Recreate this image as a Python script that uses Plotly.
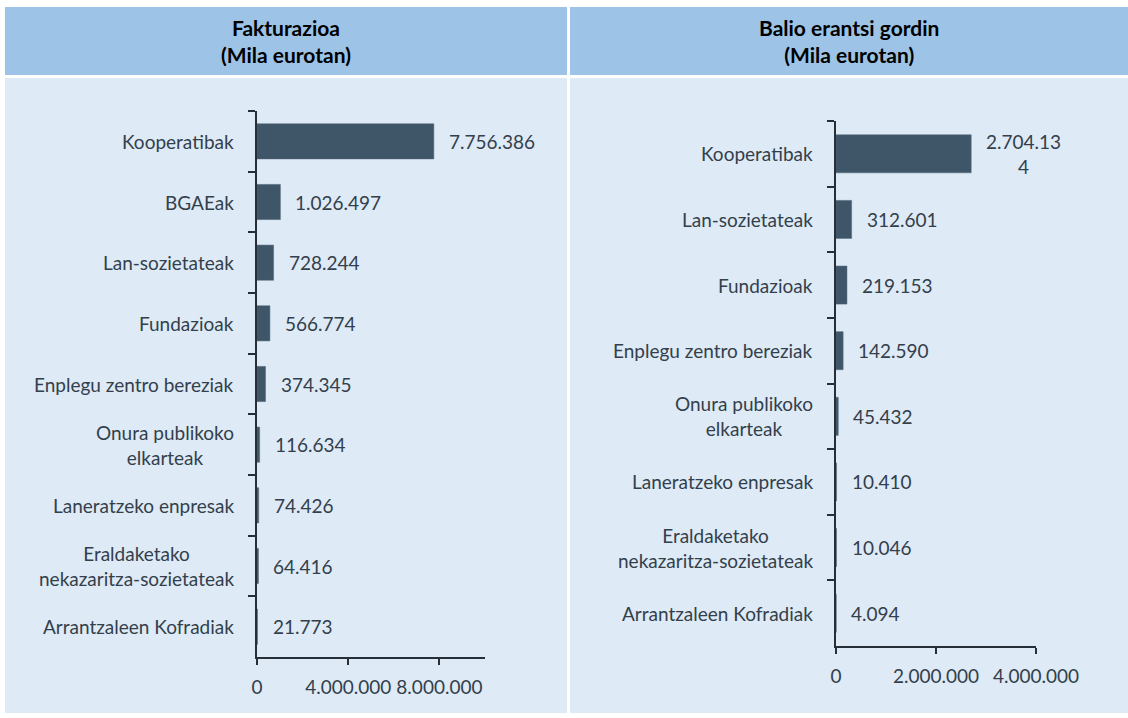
import plotly.graph_objects as go

W, H = 1128, 718

# ---- data ----
left_title = "<b>Fakturazioa<br>(Mila eurotan)</b>"
left_categories = ["Kooperatibak", "BGAEak", "Lan-sozietateak", "Fundazioak",
                   "Enplegu zentro bereziak", "Onura publikoko<br>elkarteak",
                   "Laneratzeko enpresak", "Eraldaketako<br>nekazaritza-sozietateak",
                   "Arrantzaleen Kofradiak"]
left_values = [7756386, 1026497, 728244, 566774, 374345, 116634, 74426, 64416, 21773]
left_labels = ["7.756.386", "1.026.497", "728.244", "566.774", "374.345",
               "116.634", "74.426", "64.416", "21.773"]
left_ticks = [0, 4000000, 8000000]

right_title = "<b>Balio erantsi gordin<br>(Mila eurotan)</b>"
right_categories = ["Kooperatibak", "Lan-sozietateak", "Fundazioak",
                    "Enplegu zentro bereziak", "Onura publikoko<br>elkarteak",
                    "Laneratzeko enpresak", "Eraldaketako<br>nekazaritza-sozietateak",
                    "Arrantzaleen Kofradiak"]
right_values = [2704134, 312601, 219153, 142590, 45432, 10410, 10046, 4094]
right_labels = ["2.704.13<br>4", "312.601", "219.153", "142.590", "45.432",
                "10.410", "10.046", "4.094"]
right_ticks = [0, 2000000, 4000000]

# ---- style ----
FONT = "Lato"
FS = 19
BAR = "#3E5668"
TXT = "#333F4B"
AXC = "#262F38"
HEAD = "#9DC3E6"
BODY = "#DEEAF6"

def px(x):
    return x / W

def py(y):
    return 1 - y / H

fig = go.Figure()
fig.add_trace(go.Bar(x=left_values, y=left_categories, orientation="h",
                     marker=dict(color=BAR, line=dict(color="#52687a", width=0.5)),
                     xaxis="x", yaxis="y", hoverinfo="skip", showlegend=False))
fig.add_trace(go.Bar(x=right_values, y=right_categories, orientation="h",
                     marker=dict(color=BAR, line=dict(color="#52687a", width=0.5)),
                     xaxis="x2", yaxis="y2", hoverinfo="skip", showlegend=False))

shapes = []
for (x0, x1) in [(5, 567), (570, 1128)]:
    shapes.append(dict(type="rect", xref="paper", yref="paper", x0=px(x0), x1=px(x1),
                       y0=py(75), y1=py(7), fillcolor=HEAD, line=dict(width=0), layer="below"))
    shapes.append(dict(type="rect", xref="paper", yref="paper", x0=px(x0), x1=px(x1),
                       y0=py(713), y1=py(78), fillcolor=BODY, line=dict(width=0), layer="below"))

annotations = []
for t, cx in [(left_title, 286), (right_title, 849)]:
    annotations.append(dict(text=t, x=px(cx), y=py(41), xref="paper", yref="paper",
                            xanchor="center", yanchor="middle",
                            showarrow=False, font=dict(family=FONT, size=21, color="#000000"),
                            align="center"))

for cats, vals, labs, xr, yr in [(left_categories, left_values, left_labels, "x", "y"),
                                   (right_categories, right_values, right_labels, "x2", "y2")]:
    for c, v, l in zip(cats, vals, labs):
        annotations.append(dict(text=c, x=0, y=c, xref=xr + " domain", yref=yr,
                                xanchor="right", yanchor="middle", xshift=-21,
                                showarrow=False, align="center",
                                font=dict(family=FONT, size=FS, color=TXT)))
        annotations.append(dict(text=l, x=v, y=c, xref=xr, yref=yr,
                                xanchor="left", yanchor="middle", xshift=13,
                                showarrow=False, align="center",
                                font=dict(family=FONT, size=FS, color=TXT)))

axis_common = dict(showgrid=False, zeroline=False, showline=True, linecolor=AXC, linewidth=1.5,
                   ticks="outside", tickcolor=AXC, tickwidth=1.5, fixedrange=True,
                   automargin=False)

fig.update_layout(
    template="none",
    width=W, height=H, margin=dict(l=0, r=0, t=0, b=0, pad=0, autoexpand=False),
    autosize=False,
    paper_bgcolor="white", plot_bgcolor="rgba(0,0,0,0)",
    separators=",.", bargap=0.42, showlegend=False,
    font=dict(family=FONT, size=FS, color=TXT),
    shapes=shapes, annotations=annotations,
    xaxis=dict(domain=[px(257), px(485)], range=[0, 10000000], tickvals=left_ticks,
               tickformat=",d", ticklen=6, anchor="y", ticklabelstandoff=6, tickangle=0,
               tickfont=dict(family=FONT, size=FS, color=TXT), **axis_common),
    yaxis=dict(domain=[py(657), py(111)], autorange="reversed", type="category",
               tickson="boundaries", ticklen=7, showticklabels=False, anchor="x",
               **axis_common),
    xaxis2=dict(domain=[px(836), px(1036)], range=[0, 4000000], tickvals=right_ticks,
                tickformat=",d", ticklen=6, anchor="y2", ticklabelstandoff=6, tickangle=0,
                tickfont=dict(family=FONT, size=FS, color=TXT), **axis_common),
    yaxis2=dict(domain=[py(646), py(121)], autorange="reversed", type="category",
                tickson="boundaries", ticklen=7, showticklabels=False, anchor="x2",
                **axis_common),
)

post = ("document.body.style.margin='0';document.body.style.padding='0';"
        "document.body.style.overflow='hidden';"
        "document.documentElement.style.overflow='hidden';")

fig.write_html("out.html", include_plotlyjs=True, default_width="1128px",
               default_height="718px",
               config={"responsive": False, "displayModeBar": False},
               post_script=post)
